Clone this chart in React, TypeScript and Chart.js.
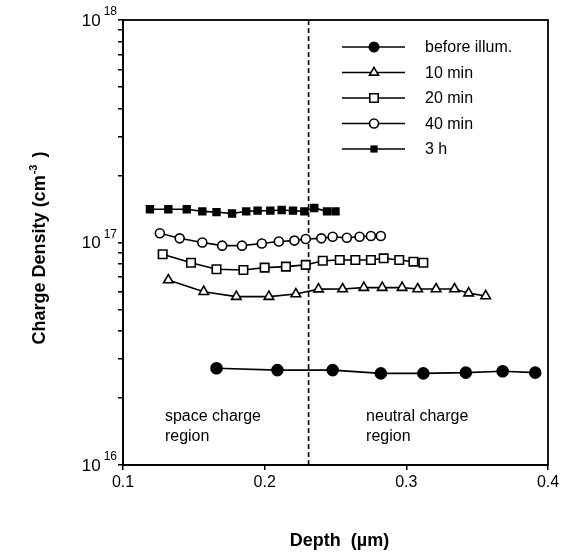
import React, { useEffect, useRef } from 'react';
import { Chart, registerables } from 'chart.js';
Chart.register(...registerables);

// ---- data ----
const depthBefore = [0.166, 0.209, 0.248, 0.282, 0.312, 0.342, 0.368, 0.391];
const densBefore = [2.72e16, 2.67e16, 2.67e16, 2.58e16, 2.58e16, 2.6e16, 2.64e16, 2.6e16];

const depth10 = [0.132, 0.157, 0.18, 0.203, 0.222, 0.238, 0.255, 0.27, 0.283, 0.297, 0.308, 0.321, 0.334, 0.344, 0.356];
const dens10 = [6.78e16, 6.01e16, 5.71e16, 5.71e16, 5.87e16, 6.17e16, 6.18e16, 6.27e16, 6.27e16, 6.27e16, 6.18e16, 6.18e16, 6.18e16, 5.92e16, 5.75e16];

const depth20 = [0.128, 0.148, 0.166, 0.185, 0.2, 0.215, 0.229, 0.241, 0.253, 0.264, 0.275, 0.284, 0.295, 0.305, 0.312];
const dens20 = [8.85e16, 8.11e16, 7.58e16, 7.52e16, 7.71e16, 7.79e16, 7.93e16, 8.28e16, 8.34e16, 8.34e16, 8.34e16, 8.49e16, 8.34e16, 8.2e16, 8.11e16];

const depth40 = [0.126, 0.14, 0.156, 0.17, 0.184, 0.198, 0.21, 0.221, 0.229, 0.24, 0.248, 0.258, 0.267, 0.275, 0.282];
const dens40 = [1.1e17, 1.044e17, 1.0e17, 0.968e17, 0.968e17, 0.99e17, 1.01e17, 1.02e17, 1.037e17, 1.044e17, 1.062e17, 1.051e17, 1.062e17, 1.07e17, 1.07e17];

const depth3h = [0.119, 0.132, 0.145, 0.156, 0.166, 0.177, 0.187, 0.195, 0.204, 0.212, 0.22, 0.228, 0.235, 0.244, 0.25];
const dens3h = [1.41e17, 1.41e17, 1.41e17, 1.38e17, 1.37e17, 1.35e17, 1.38e17, 1.39e17, 1.39e17, 1.4e17, 1.39e17, 1.38e17, 1.43e17, 1.38e17, 1.38e17];

const boundaryDepth = 0.231;
const seriesLabels = ['before illum.', '10 min', '20 min', '40 min', '3 h'];
const xTicks = [0.1, 0.2, 0.3, 0.4];
const yMajorExponents = [16, 17, 18];
const regionLabels = [['space charge', 'region'], ['neutral charge', 'region']];

const FONT = '"Liberation Sans", Arial, Helvetica, sans-serif';

const toXY = (xs: number[], ys: number[]) => xs.map((x, i) => ({ x, y: ys[i] }));

type MarkerKind = 'filledCircle' | 'triangle' | 'square' | 'circle' | 'filledSquare';
const markerKinds: MarkerKind[] = ['filledCircle', 'triangle', 'square', 'circle', 'filledSquare'];

function drawMarker(ctx: CanvasRenderingContext2D, kind: MarkerKind, x: number, y: number) {
  ctx.save();
  ctx.strokeStyle = '#000';
  ctx.fillStyle = '#000';
  ctx.lineWidth = 1.6;
  ctx.beginPath();
  if (kind === 'filledCircle') {
    ctx.arc(x, y, 5.5, 0, Math.PI * 2);
    ctx.fill();
  } else if (kind === 'circle') {
    ctx.arc(x, y, 4.5, 0, Math.PI * 2);
    ctx.fillStyle = '#fff';
    ctx.fill();
    ctx.stroke();
  } else if (kind === 'square') {
    ctx.rect(x - 4.2, y - 4.2, 8.4, 8.4);
    ctx.fillStyle = '#fff';
    ctx.fill();
    ctx.stroke();
  } else if (kind === 'filledSquare') {
    ctx.rect(x - 3.6, y - 3.6, 7.2, 7.2);
    ctx.fill();
  } else {
    const r = 5.2;
    ctx.moveTo(x, y - r);
    ctx.lineTo(x + r * 0.866, y + r * 0.5);
    ctx.lineTo(x - r * 0.866, y + r * 0.5);
    ctx.closePath();
    ctx.fillStyle = '#fff';
    ctx.fill();
    ctx.stroke();
  }
  ctx.restore();
}

const decorPlugin = {
  id: 'decor',
  afterDraw(chart: any) {
    const { ctx, chartArea } = chart;
    const xs = chart.scales.x;
    const ys = chart.scales.y;
    ctx.save();
    // frame
    ctx.strokeStyle = '#000';
    ctx.lineWidth = 1.8;
    ctx.strokeRect(chartArea.left, chartArea.top, chartArea.right - chartArea.left, chartArea.bottom - chartArea.top);

    // y tick labels with superscripts
    ctx.fillStyle = '#000';
    ctx.textBaseline = 'middle';
    for (const e of yMajorExponents) {
      const py = ys.getPixelForValue(Math.pow(10, e));
      ctx.font = `12px ${FONT}`;
      const sup = String(e);
      const supW = ctx.measureText(sup).width;
      const right = chartArea.left - 6;
      ctx.textAlign = 'right';
      ctx.fillText(sup, right, py - 8);
      ctx.font = `17px ${FONT}`;
      ctx.fillText('10', right - supW - 3, py + 1);
    }

    // y title
    ctx.save();
    ctx.translate(40, (chartArea.top + chartArea.bottom) / 2 + 6);
    ctx.rotate(-Math.PI / 2);
    ctx.textBaseline = 'middle';
    const main = 'Charge Density (cm';
    const supT = '-3';
    const tail = ' )';
    ctx.font = `bold 18px ${FONT}`;
    const wMain = ctx.measureText(main).width;
    const wTail = ctx.measureText(tail).width;
    ctx.font = `bold 11px ${FONT}`;
    const wSup = ctx.measureText(supT).width + 2;
    const total = wMain + wSup + wTail;
    let cx = -total / 2;
    ctx.textAlign = 'left';
    ctx.font = `bold 18px ${FONT}`;
    ctx.fillText(main, cx, 0);
    cx += wMain + 1;
    ctx.font = `bold 11px ${FONT}`;
    ctx.fillText(supT, cx, -6);
    cx += wSup;
    ctx.font = `bold 18px ${FONT}`;
    ctx.fillText(tail, cx, 0);
    ctx.restore();

    // x title
    ctx.font = `bold 18px ${FONT}`;
    ctx.textAlign = 'center';
    ctx.textBaseline = 'middle';
    ctx.fillText('Depth  (\u00b5m)', (chartArea.left + chartArea.right) / 2 + 4, 541);

    // region labels
    ctx.font = `16px ${FONT}`;
    ctx.textAlign = 'left';
    ctx.textBaseline = 'alphabetic';
    const regionX = [0.1296, 0.2716];
    regionLabels.forEach((lines, i) => {
      const px = xs.getPixelForValue(regionX[i]);
      lines.forEach((t, j) => ctx.fillText(t, px, 421 + j * 20));
    });

    // legend
    const legX0 = 342, legX1 = 405, legM = 374, legT = 425;
    seriesLabels.forEach((lab, i) => {
      const ly = 47 + i * 25.5;
      ctx.strokeStyle = '#000';
      ctx.lineWidth = 1.5;
      ctx.beginPath();
      ctx.moveTo(legX0, ly);
      ctx.lineTo(legX1, ly);
      ctx.stroke();
      drawMarker(ctx, markerKinds[i], legM, ly);
      ctx.fillStyle = '#000';
      ctx.font = `16px ${FONT}`;
      ctx.textAlign = 'left';
      ctx.textBaseline = 'middle';
      ctx.fillText(lab, legT, ly + 1);
    });
    ctx.restore();
  },
};

export default function App() {
  const ref = useRef<HTMLCanvasElement | null>(null);
  useEffect(() => {
    document.body.style.margin = '0';
    if (!ref.current) return;
    const base = { borderColor: '#000', borderWidth: 1.6, pointBorderColor: '#000', pointBorderWidth: 1.6, showLine: true, tension: 0 };
    const chart = new Chart(ref.current, {
      type: 'scatter',
      data: {
        datasets: [
          { ...base, label: seriesLabels[0], data: toXY(depthBefore, densBefore), pointStyle: 'circle', pointRadius: 5.5, pointBackgroundColor: '#000' },
          { ...base, label: seriesLabels[1], data: toXY(depth10, dens10), pointStyle: 'triangle', pointRadius: 5.5, pointBackgroundColor: '#fff' },
          { ...base, label: seriesLabels[2], data: toXY(depth20, dens20), pointStyle: 'rect', pointRadius: 6, pointBackgroundColor: '#fff' },
          { ...base, label: seriesLabels[3], data: toXY(depth40, dens40), pointStyle: 'circle', pointRadius: 4.5, pointBackgroundColor: '#fff' },
          { ...base, label: seriesLabels[4], data: toXY(depth3h, dens3h), pointStyle: 'rect', pointRadius: 4.8, pointBackgroundColor: '#000' },
          { label: 'boundary', data: [{ x: boundaryDepth, y: 1e16 }, { x: boundaryDepth, y: 1e18 }], showLine: true, borderColor: '#000', borderWidth: 1.6, borderDash: [5, 3], pointRadius: 0 },
        ] as any,
      },
      options: {
        animation: false,
        responsive: false,
        maintainAspectRatio: false,
        layout: { padding: { top: 20, right: 20, left: 0, bottom: 0 } },
        plugins: { legend: { display: false }, tooltip: { enabled: false } },
        scales: {
          x: {
            type: 'linear',
            min: 0.1,
            max: 0.4,
            afterBuildTicks: (s: any) => { s.ticks = xTicks.map((v) => ({ value: v })); },
            afterFit: (s: any) => { s.height = 88; },
            ticks: { callback: (v: any) => Number(v).toFixed(1), color: '#000', font: { family: FONT, size: 16 }, padding: 3 },
            grid: { drawOnChartArea: false, drawTicks: true, tickLength: 5, color: '#000', lineWidth: 1.5 },
            border: { display: true, color: '#000', width: 1.8 },
          },
          y: {
            type: 'logarithmic',
            min: 1e16,
            max: 1e18,
            afterBuildTicks: (s: any) => {
              const t: any[] = [];
              for (let e = 16; e < 18; e++) for (let m = 1; m < 10; m++) t.push({ value: m * Math.pow(10, e), major: m === 1 });
              t.push({ value: 1e18, major: true });
              s.ticks = t;
            },
            afterFit: (s: any) => { s.width = 123; },
            ticks: { display: false },
            grid: { drawOnChartArea: false, drawTicks: true, tickLength: 5, color: '#000', lineWidth: 1.5 },
            border: { display: true, color: '#000', width: 1.8 },
          },
        },
      } as any,
      plugins: [decorPlugin],
    });
    return () => chart.destroy();
  }, []);
  return <canvas ref={ref} width={568} height={553} style={{ display: 'block', width: 568, height: 553 }} />;
}
